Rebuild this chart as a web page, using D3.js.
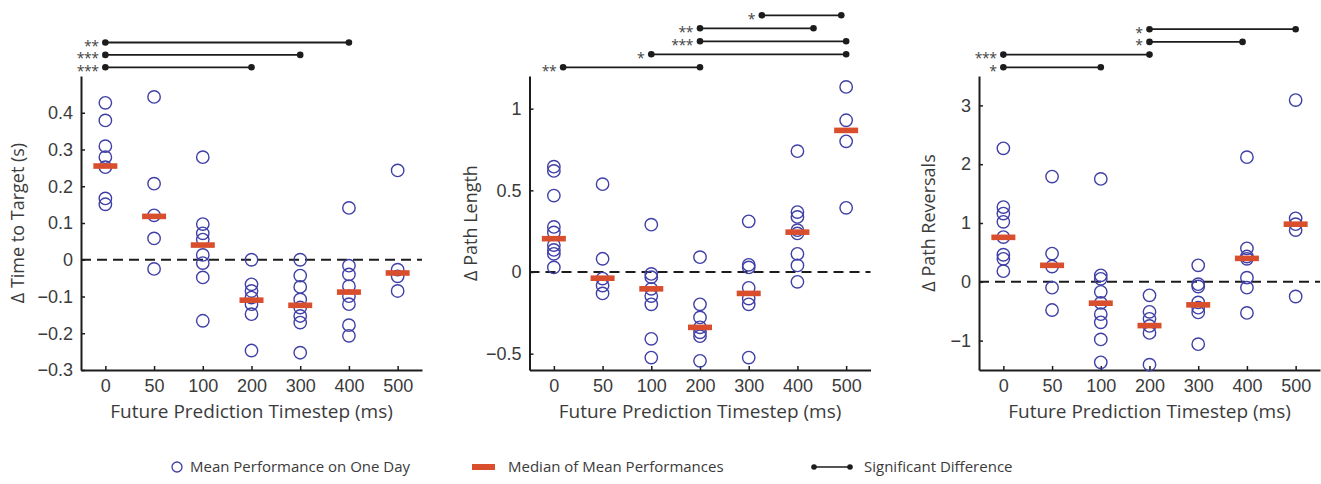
<!DOCTYPE html>
<html>
<head>
<meta charset="utf-8">
<script src="https://cdn.jsdelivr.net/npm/d3@7"></script>
<style>
  body { margin: 0; background: #fff; }
  svg { font-family: "Open Sans", sans-serif; }
</style>
</head>
<body>
<div id="chart"></div>
<script>
/**
 * DATA
 * */
const timesteps = ["0", "50", "100", "200", "300", "400", "500"];

// Δ Time to Target (s)
const timeToTarget = [
  [0.427, 0.379, 0.309, 0.279, 0.252, 0.167, 0.151],
  [0.443, 0.207, 0.121, 0.058, -0.025],
  [0.279, 0.097, 0.072, 0.055, 0.013, -0.009, -0.048, -0.166],
  [0.0, -0.067, -0.085, -0.103, -0.121, -0.148, -0.247],
  [0.0, -0.043, -0.074, -0.108, -0.130, -0.153, -0.171, -0.253],
  [0.141, -0.016, -0.040, -0.072, -0.099, -0.121, -0.178, -0.207],
  [0.243, -0.027, -0.045, -0.085]
];
const timeMedian = [0.255, 0.118, 0.040, -0.110, -0.124, -0.088, -0.036];
const timeTicks = [-0.3, -0.2, -0.1, 0, 0.1, 0.2, 0.3, 0.4];
const timeSig = [
  { from: 0, to: 3, row: 0, stars: "***" },
  { from: 0, to: 4, row: 1, stars: "***" },
  { from: 0, to: 5, row: 2, stars: "**" }
];

// Δ Path Length
const pathLength = [
  [0.645, 0.619, 0.468, 0.276, 0.242, 0.165, 0.135, 0.111, 0.028],
  [0.538, 0.081, -0.040, -0.083, -0.131],
  [0.290, -0.012, -0.032, -0.103, -0.147, -0.198, -0.409, -0.524],
  [0.091, -0.198, -0.278, -0.339, -0.369, -0.393, -0.544],
  [0.310, 0.044, 0.028, -0.097, -0.163, -0.198, -0.524],
  [0.740, 0.367, 0.337, 0.256, 0.236, 0.111, 0.040, -0.060],
  [1.133, 0.929, 0.800, 0.393]
];
const pathMedian = [0.204, -0.038, -0.103, -0.339, -0.131, 0.244, 0.867];
const pathTicks = [-0.5, 0, 0.5, 1];
const pathSig = [
  { from: 0.19, to: 3, row: 0, stars: "**" },
  { from: 2, to: 6, row: 1, stars: "*" },
  { from: 3, to: 6, row: 2, stars: "***" },
  { from: 3, to: 5.33, row: 3, stars: "**" },
  { from: 4.27, to: 5.9, row: 4, stars: "*" }
];

// Δ Path Reversals
const reversals = [
  [2.27, 1.27, 1.16, 1.02, 0.76, 0.46, 0.39, 0.18],
  [1.79, 0.48, 0.26, -0.10, -0.48],
  [1.75, 0.11, 0.05, -0.17, -0.36, -0.55, -0.69, -0.98, -1.37],
  [-0.23, -0.51, -0.63, -0.75, -0.87, -1.41],
  [0.28, -0.04, -0.08, -0.35, -0.44, -0.52, -1.06],
  [2.12, 0.57, 0.43, 0.39, 0.07, -0.10, -0.53],
  [3.09, 1.08, 0.98, 0.88, -0.25]
];
const reversalMedian = [0.756, 0.28, -0.364, -0.745, -0.392, 0.398, 0.98];
const reversalTicks = [-1, 0, 1, 2, 3];
const reversalSig = [
  { from: 0, to: 2, row: 0, stars: "*" },
  { from: 0, to: 3, row: 1, stars: "***" },
  { from: 3, to: 4.91, row: 2, stars: "*" },
  { from: 3, to: 6, row: 3, stars: "*" }
];

const legendLabels = ["Mean Performance on One Day", "Median of Mean Performances", "Significant Difference"];

/**
 * CONSTANTS
 * */
const width = 1321, height = 484;
const plotTop = 76, plotBottom = 370, plotWidth = 341;
const blue = "#3f3fa6", red = "#d94f2e", ink = "#1c1c1c", textColor = "#3b3b3b";

const panels = [
  { left: 81, values: timeToTarget, medians: timeMedian, domain: [-0.3, 0.5], ticks: timeTicks,
    sig: timeSig, rowGap: 12.4, ylabel: "Δ Time to Target (s)", ylabelX: 18 },
  { left: 529.5, values: pathLength, medians: pathMedian, domain: [-0.6, 1.2], ticks: pathTicks,
    sig: pathSig, rowGap: 13, ylabel: "Δ Path Length", ylabelX: 471 },
  { left: 979, values: reversals, medians: reversalMedian, domain: [-1.5, 3.5], ticks: reversalTicks,
    sig: reversalSig, rowGap: 12.7, ylabel: "Δ Path Reversals", ylabelX: 929 }
];

const svg = d3.select("#chart")
  .append("svg")
  .attr("width", width)
  .attr("height", height);

panels.forEach(drawPanel);
drawLegend();

function drawPanel(p) {
  const x = d3.scaleLinear().domain([-0.5, 6.5]).range([p.left, p.left + plotWidth]);
  const y = d3.scaleLinear().domain(p.domain).range([plotBottom, plotTop]);
  const g = svg.append("g");

  // dashed zero line
  g.append("line")
    .attr("x1", x(-0.5)).attr("x2", x(6.5))
    .attr("y1", y(0)).attr("y2", y(0))
    .attr("stroke", ink)
    .attr("stroke-width", 2)
    .attr("stroke-dasharray", "10,6");

  // axes
  const yAxis = g.append("g")
    .attr("transform", `translate(${p.left},0)`)
    .call(d3.axisLeft(y).tickValues(p.ticks).tickFormat(d3.format("~g"))
      .tickSizeInner(-4).tickSizeOuter(0).tickPadding(8));

  const xAxis = g.append("g")
    .attr("transform", `translate(0,${plotBottom})`)
    .call(d3.axisBottom(x).tickValues(d3.range(timesteps.length))
      .tickFormat(i => timesteps[i])
      .tickSizeInner(-4).tickSizeOuter(0).tickPadding(9));

  [yAxis, xAxis].forEach(a => {
    a.select(".domain").attr("stroke", ink).attr("stroke-width", 2);
    a.selectAll(".tick line").attr("stroke", ink).attr("stroke-width", 1.5);
    a.selectAll(".tick text")
      .attr("fill", textColor)
      .style("font-size", "18px");
  });

  // circles (mean performance per day)
  const pts = p.values.flatMap((vals, i) => vals.map(v => ({ i, v })));
  g.selectAll("circle.pt")
    .data(pts)
    .join("circle")
    .attr("class", "pt")
    .attr("cx", d => x(d.i))
    .attr("cy", d => y(d.v))
    .attr("r", 6.2)
    .attr("fill", "none")
    .attr("stroke", blue)
    .attr("stroke-width", 1.4);

  // medians
  g.selectAll("rect.med")
    .data(p.medians)
    .join("rect")
    .attr("class", "med")
    .attr("x", (d, i) => x(i) - 12)
    .attr("y", d => y(d) - 2.8)
    .attr("width", 24)
    .attr("height", 5.6)
    .attr("fill", red);

  // significance brackets
  const rowY = r => 67.3 - r * p.rowGap;
  const sig = g.selectAll("g.sig")
    .data(p.sig)
    .join("g")
    .attr("class", "sig");

  sig.append("line")
    .attr("x1", d => x(d.from)).attr("x2", d => x(d.to))
    .attr("y1", d => rowY(d.row)).attr("y2", d => rowY(d.row))
    .attr("stroke", ink)
    .attr("stroke-width", 1.8);

  sig.selectAll("circle")
    .data(d => [[d.from, d.row], [d.to, d.row]])
    .join("circle")
    .attr("cx", d => x(d[0]))
    .attr("cy", d => rowY(d[1]))
    .attr("r", 3.3)
    .attr("fill", ink);

  sig.append("text")
    .attr("x", d => x(d.from) - 7)
    .attr("y", d => rowY(d.row) + 8.5)
    .attr("text-anchor", "end")
    .attr("fill", "#444")
    .style("font-size", "14px")
    .style("letter-spacing", "-0.5px")
    .text(d => d.stars);

  // labels
  g.append("text")
    .attr("x", p.left + plotWidth / 2)
    .attr("y", 418)
    .attr("text-anchor", "middle")
    .attr("fill", textColor)
    .style("font-size", "19px")
    .text("Future Prediction Timestep (ms)");

  g.append("text")
    .attr("transform", `translate(${p.ylabelX},${(plotTop + plotBottom) / 2}) rotate(-90)`)
    .attr("text-anchor", "middle")
    .attr("dy", "0.35em")
    .attr("fill", textColor)
    .style("font-size", "18px")
    .text(p.ylabel);
}

function drawLegend() {
  const ly = 467;
  const lg = svg.append("g").attr("fill", textColor).style("font-size", "15px");

  lg.append("circle")
    .attr("cx", 177).attr("cy", ly).attr("r", 5)
    .attr("fill", "none").attr("stroke", blue).attr("stroke-width", 1.3);
  lg.append("text").attr("x", 190).attr("y", ly).attr("dy", "0.35em").text(legendLabels[0]);

  lg.append("rect")
    .attr("x", 472).attr("y", ly - 3).attr("width", 23).attr("height", 6)
    .attr("fill", red);
  lg.append("text").attr("x", 508).attr("y", ly).attr("dy", "0.35em").text(legendLabels[1]);

  lg.append("line")
    .attr("x1", 814).attr("x2", 850).attr("y1", ly).attr("y2", ly)
    .attr("stroke", ink).attr("stroke-width", 1.6);
  lg.selectAll("circle.end")
    .data([814, 850])
    .join("circle")
    .attr("class", "end")
    .attr("cx", d => d).attr("cy", ly).attr("r", 2.8)
    .attr("fill", ink);
  lg.append("text").attr("x", 864).attr("y", ly).attr("dy", "0.35em").text(legendLabels[2]);
}
</script>
</body>
</html>
